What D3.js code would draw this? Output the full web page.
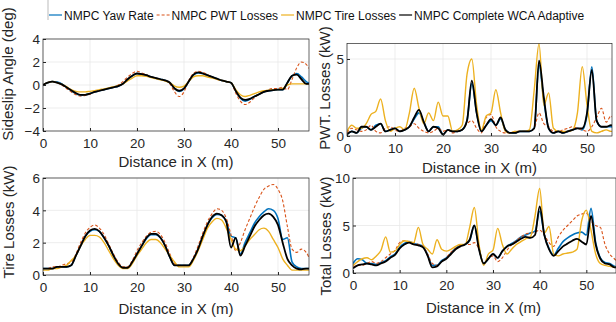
<!DOCTYPE html>
<meta charset="utf-8">
<style>
body{margin:0;background:#fff;}
text{font-family:"Liberation Sans",Arial,sans-serif;fill:#262626;}
.tick{font-size:13.5px;}
.lab{font-size:15px;}
.leg{font-size:12px;fill:#111;}
.grid line{stroke:#e8e8e8;stroke-width:0.8;}
.box{fill:none;stroke:#262626;stroke-width:0.7;}
</style>
<body>
<script src="https://cdn.jsdelivr.net/npm/d3@7"></script>
<script>

// sample positions (m)
var distance=[0,1,2,3,4,5,6,7,8,9,10,11,12,13,14,15,16,17,18,19,20,21,22,23,24,25,26,27,28,29,30,31,32,33,34,35,36,37,38,39,40,41,42,43,44,45,46,47,48,49,50,51,52,53,54,55,56,57];

var seriesNames=["NMPC Yaw Rate","NMPC PWT Losses","NMPC Tire Losses","NMPC Complete WCA Adaptive"];
var xTicks=[0,10,20,30,40,50];

// sideslip angle (deg)
var slipYaw=[0,0.2,0.3,0.25,0.1,-0.2,-0.5,-0.75,-0.9,-0.85,-0.75,-0.6,-0.5,-0.4,-0.3,-0.2,-0.1,0.1,0.45,0.8,1.0,0.95,0.85,0.7,0.6,0.5,0.4,0.2,-0.3,-0.55,-0.35,0.3,0.85,1.05,1.0,0.85,0.7,0.55,0.4,0.3,0.2,-0.5,-1.15,-1.4,-1.25,-1.0,-0.8,-0.6,-0.5,-0.45,-0.4,-0.4,0.2,0.8,1.0,0.7,0.3,0.1];
var slipPwt=[0,0.2,0.3,0.2,0.0,-0.3,-0.6,-0.85,-0.95,-0.9,-0.8,-0.6,-0.5,-0.4,-0.3,-0.2,0.0,0.3,0.7,1.0,1.2,1.05,0.9,0.7,0.6,0.5,0.4,0.1,-0.6,-1.0,-0.6,0.4,1.0,1.2,1.1,0.9,0.7,0.5,0.4,0.3,0.2,-0.7,-1.4,-1.7,-1.5,-1.1,-0.8,-0.6,-0.4,-0.3,-0.3,-0.2,-0.4,0.5,1.5,2.0,1.8,1.2];
var slipTire=[0,0.2,0.3,0.2,0.05,-0.15,-0.4,-0.55,-0.6,-0.6,-0.55,-0.5,-0.4,-0.35,-0.25,-0.15,-0.05,0.1,0.35,0.6,0.8,0.8,0.75,0.65,0.55,0.45,0.35,0.2,-0.1,-0.2,-0.1,0.3,0.7,0.8,0.8,0.7,0.6,0.5,0.4,0.3,0.2,-0.4,-0.85,-1.0,-0.9,-0.75,-0.6,-0.5,-0.45,-0.4,-0.4,-0.3,0.0,0.1,0.1,0.1,0.1,0.1];
var slipComplete=[0,0.2,0.3,0.2,0.05,-0.2,-0.45,-0.7,-0.85,-0.85,-0.75,-0.6,-0.5,-0.4,-0.3,-0.2,-0.1,0.1,0.5,0.8,1.0,0.95,0.85,0.7,0.6,0.5,0.4,0.2,-0.3,-0.5,-0.3,0.3,0.9,1.1,1.0,0.85,0.7,0.55,0.4,0.3,0.2,-0.5,-1.1,-1.3,-1.2,-1.0,-0.8,-0.6,-0.5,-0.45,-0.4,-0.4,0.2,0.8,0.9,0.5,0.1,0.1];

// PWT losses (kW)
var pwtYaw=[0.1,0.3,0.2,0.5,0.6,0.4,0.7,0.8,0.3,0.4,0.5,0.3,0.4,0.6,1.1,1.5,0.9,0.3,0.6,0.6,0.1,0.4,0.3,0.3,0.4,1.0,3.4,1.5,0.3,0.7,1.0,0.7,1.1,0.4,0.2,0.2,0.3,0.3,0.3,0.5,4.6,2.3,0.5,0.2,0.3,0.2,0.3,0.4,0.5,0.4,1.4,4.5,1.0,0.6,0.6,0.6,0.5,0.4];
var pwtPwt=[0.2,0.5,0.4,0.3,0.4,0.7,0.3,0.2,0.5,0.6,0.4,0.3,0.5,0.6,0.8,0.5,0.3,0.2,0.3,0.5,0.3,0.4,0.2,0.3,0.4,0.8,1.0,0.5,0.2,1.2,1.4,0.6,0.3,0.2,0.2,0.3,0.3,0.3,0.3,0.5,1.5,0.8,0.6,0.3,0.3,0.4,0.5,0.6,0.5,0.4,0.3,0.6,1.2,1.8,0.9,1.3,0.8,0.5];
var pwtTire=[0.3,0.7,0.5,0.5,0.8,1.4,1.6,2.4,1.0,0.3,0.5,0.6,0.4,1.5,3.1,1.8,0.8,1.5,1.0,2.2,1.3,1.3,0.3,0.4,0.7,4.0,5.0,2.0,0.4,1.3,1.5,3.0,1.5,0.3,0.2,0.3,0.3,0.3,0.4,3.0,6.0,2.0,2.8,0.5,0.3,0.3,0.3,0.4,1.5,4.5,2.0,0.3,0.2,0.3,0.4,0.3,0.3,0.3];
var pwtComplete=[0.1,0.3,0.2,0.6,0.6,0.4,0.6,0.8,0.3,0.4,0.5,0.3,0.4,0.6,1.2,1.7,0.9,0.3,0.6,0.5,0.1,0.4,0.3,0.3,0.4,1.0,3.6,1.5,0.3,0.7,1.1,0.7,1.2,0.4,0.2,0.2,0.3,0.3,0.3,0.5,4.9,2.5,0.5,0.2,0.3,0.2,0.3,0.4,0.5,0.5,1.5,4.3,1.0,0.6,0.6,0.7,0.5,0.4];

// tire losses (kW)
var tireYaw=[0.4,0.4,0.4,0.5,0.5,0.5,0.6,1.2,1.8,2.4,2.7,2.8,2.7,2.3,1.8,1.2,0.7,0.45,0.45,0.8,1.3,1.8,2.25,2.5,2.5,2.3,1.8,1.1,0.6,0.6,0.6,0.6,1.0,1.6,2.4,3.1,3.55,3.75,3.7,3.3,2.4,2.3,1.3,2.0,2.6,3.2,3.6,3.9,4.1,4.0,3.5,2.2,2.3,0.8,0.5,0.4,0.4,0.4];
var tirePwt=[0.4,0.4,0.5,0.5,0.6,0.7,0.8,1.3,2.0,2.6,2.95,3.1,2.9,2.5,1.9,1.3,0.8,0.5,0.5,0.9,1.5,2.0,2.4,2.65,2.7,2.5,2.0,1.3,0.7,0.6,0.6,0.6,1.1,1.8,2.6,3.3,3.8,4.1,4.0,3.5,2.5,1.5,2.0,2.8,3.5,4.2,4.8,5.3,5.5,5.6,5.3,4.6,3.0,1.6,1.4,1.6,1.4,0.8];
var tireTire=[0.3,0.3,0.4,0.4,0.5,0.6,0.9,1.2,1.8,2.2,2.45,2.45,2.35,2.0,1.5,1.0,0.6,0.4,0.4,0.7,1.2,1.6,2.0,2.2,2.2,2.0,1.6,1.2,0.8,0.5,0.5,0.5,0.9,1.5,2.2,2.9,3.3,3.5,3.4,2.9,2.2,1.6,1.5,1.8,2.2,2.5,2.8,2.9,2.7,2.2,1.7,1.0,0.6,0.3,0.3,0.3,0.3,0.3];
var tireComplete=[0.4,0.4,0.4,0.5,0.5,0.5,0.6,1.2,1.8,2.4,2.75,2.85,2.7,2.3,1.8,1.2,0.7,0.45,0.45,0.8,1.3,1.8,2.3,2.55,2.55,2.3,1.8,1.1,0.6,0.6,0.6,0.6,1.0,1.6,2.4,3.1,3.6,3.8,3.7,3.3,1.7,2.3,1.2,1.8,2.4,3.0,3.4,3.7,3.8,3.6,3.1,2.0,1.0,0.6,0.4,0.35,0.4,0.4];

// total losses (kW)
var totalYaw=[1.0,1.5,1.4,1.0,1.0,0.9,1.1,1.3,1.7,2.0,2.7,3.1,3.3,3.1,3.0,2.8,1.9,0.8,0.8,1.3,1.6,2.1,2.6,2.9,3.0,3.4,5.0,2.6,1.0,1.5,2.0,1.6,2.3,2.8,3.1,3.4,3.8,4.0,4.2,4.4,6.5,4.0,2.6,1.9,2.6,3.3,3.7,4.0,4.2,4.3,4.0,6.8,3.2,1.6,1.1,1.0,0.7,0.6];
var totalPwt=[0.6,0.8,0.8,1.0,1.2,1.0,1.2,1.6,2.0,2.4,3.2,3.4,3.3,3.2,3.0,2.8,2.0,1.0,0.8,1.2,1.6,2.2,2.6,2.9,3.0,3.0,3.2,2.5,1.0,1.5,1.8,1.2,1.6,2.4,3.0,3.4,3.8,4.1,4.2,4.3,4.5,4.0,3.2,2.8,3.8,4.5,5.0,5.5,6.0,6.2,6.3,5.5,5.0,4.8,3.0,2.0,1.5,1.0];
var totalTire=[0.8,1.2,1.5,1.6,1.4,1.8,2.4,3.8,2.2,2.3,3.0,3.4,3.3,3.2,4.8,3.0,2.5,2.0,3.5,2.5,2.3,2.5,2.8,3.0,3.0,4.8,6.9,3.0,0.8,2.0,2.4,4.7,3.0,2.0,2.5,3.0,3.3,3.6,3.8,6.0,8.9,4.2,4.9,2.0,1.8,2.0,2.1,2.2,2.5,5.5,6.6,4.5,2.0,1.0,0.8,0.7,0.6,0.5];
var totalComplete=[0.5,0.8,0.9,1.0,0.9,0.8,1.0,1.2,1.6,1.9,2.6,3.0,3.2,3.0,2.9,2.7,1.8,0.6,0.7,1.2,1.5,2.0,2.5,2.8,3.0,3.5,5.0,2.5,1.0,1.5,2.0,1.6,2.3,2.8,3.0,3.3,3.6,3.8,3.7,4.0,7.0,4.0,2.5,1.8,2.3,2.8,3.1,3.4,3.6,3.3,3.0,6.0,3.0,1.5,1.0,0.9,0.6,0.6];

var colors=["#0072BD","#D95319","#EDB120","#000000"];
var widths=[1.6,1.1,1.4,1.8];
var dashes=[null,"3,2",null,null];

var W=616,H=322;
var svg=d3.select("body").append("svg").attr("width",W).attr("height",H);

var panels=[
  {id:"tl",xr:[43,309],xmax:56.6,yr:[131,39],yd:[-4,4],yt:[-4,-2,0,2,4],data:[slipYaw,slipPwt,slipTire,slipComplete],
   ylab:"Sideslip Angle (deg)",ylx:13,yly:74,xly:167},
  {id:"tr",xr:[347,612],xmax:55.2,yr:[136,43.6],yd:[0,6],yt:[0,5],data:[pwtYaw,pwtPwt,pwtTire,pwtComplete],
   ylab:"PWT. Losses (kW)",ylx:330,yly:88,xly:173},
  {id:"bl",xr:[43,309],xmax:56.6,yr:[275,178],yd:[0,6],yt:[0,2,4,6],data:[tireYaw,tirePwt,tireTire,tireComplete],
   ylab:"Tire Losses (kW)",ylx:14,yly:222,xly:314},
  {id:"br",xr:[353,619],xmax:57,yr:[273,178],yd:[0,10],yt:[0,5,10],data:[totalYaw,totalPwt,totalTire,totalComplete],
   ylab:"Total Losses (kW)",ylx:331,yly:236,xly:313}
];

panels.forEach(function(p){
  var x=d3.scaleLinear().domain([0,p.xmax]).range(p.xr);
  var y=d3.scaleLinear().domain(p.yd).range(p.yr);
  var g=svg.append("g");
  var x0=p.xr[0],x1=Math.min(p.xr[1],W),y0=p.yr[1],y1=p.yr[0];

  g.append("clipPath").attr("id","c-"+p.id).append("rect")
    .attr("x",x0).attr("y",y0-2).attr("width",x1-x0).attr("height",y1-y0+2);

  var grid=g.append("g").attr("class","grid");
  grid.selectAll(".gx").data(xTicks).enter().append("line")
    .attr("x1",d=>x(d)).attr("x2",d=>x(d)).attr("y1",y0).attr("y2",y1);
  grid.selectAll(".gy").data(p.yt).enter().append("line")
    .attr("x1",x0).attr("x2",x1).attr("y1",d=>y(d)).attr("y2",d=>y(d));

  var line=d3.line().x((d,i)=>x(distance[i])).y(d=>y(d)).curve(d3.curveMonotoneX);
  var lines=g.append("g").attr("clip-path","url(#c-"+p.id+")");
  p.data.forEach(function(s,k){
    lines.append("path").attr("d",line(s)).attr("fill","none")
      .attr("stroke",colors[k]).attr("stroke-width",widths[k])
      .attr("stroke-dasharray",dashes[k]).attr("stroke-linejoin","round");
  });

  g.append("rect").attr("class","box").attr("x",x0).attr("y",y0)
    .attr("width",x1-x0).attr("height",y1-y0);

  // ticks pointing inward like matlab
  g.append("g").attr("transform","translate(0,"+y1+")")
    .call(d3.axisBottom(x).tickValues(xTicks).tickSize(-3).tickPadding(6).tickFormat(d3.format("d")))
    .call(a=>{a.select(".domain").remove();a.selectAll("line").attr("stroke","#262626");
      a.selectAll("text").attr("class","tick").attr("fill","#262626").attr("font-size",null).attr("dy",null).attr("y",17);});
  g.append("g").attr("transform","translate("+x0+",0)")
    .call(d3.axisLeft(y).tickValues(p.yt).tickSize(-3).tickPadding(4).tickFormat(d3.format("d")))
    .call(a=>{a.select(".domain").remove();a.selectAll("line").attr("stroke","#262626");
      a.selectAll("text").attr("class","tick").attr("fill","#262626").attr("font-size",null).attr("dy","0.35em").attr("x",-3);});
  svg.selectAll(".tick text").attr("font-family",null);

  g.append("text").attr("class","lab").attr("text-anchor","middle")
    .attr("x",(x0+(p.id=="br"?586+ (586-353)*0.12:x1))/2).attr("y",p.xly).text("Distance in X (m)");
  g.append("text").attr("class","lab").attr("text-anchor","middle")
    .attr("transform","translate("+p.ylx+","+p.yly+") rotate(-90)").text(p.ylab);
});

// legend
var leg=svg.append("g");
leg.append("line").attr("x1",48).attr("x2",48).attr("y1",0).attr("y2",20).attr("stroke","#bbb");
var lx=49;
seriesNames.forEach(function(n,k){
  leg.append("line").attr("x1",lx).attr("x2",lx+13).attr("y1",15).attr("y2",15)
    .attr("stroke",colors[k]).attr("stroke-width",1.2).attr("stroke-dasharray",dashes[k]);
  var t=leg.append("text").attr("class","leg").attr("x",lx+15).attr("y",19.5).text(n);
  lx=lx+15+t.node().getComputedTextLength()+3;
});
</script>
</body>
</html>
